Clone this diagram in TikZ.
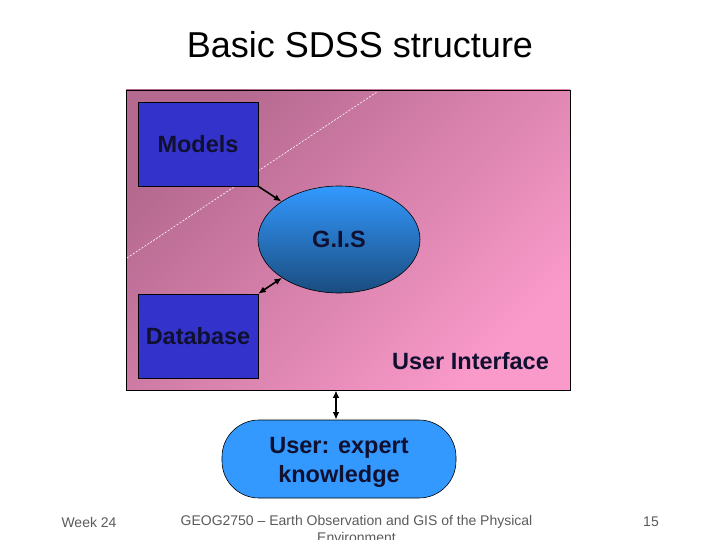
\documentclass[tikz,border=0pt]{standalone}
\usepackage{fontspec}
\setmainfont{Liberation Sans}
\usetikzlibrary{shapes.geometric,arrows.meta}
\definecolor{frameA}{HTML}{B5698F}
\definecolor{frameB}{HTML}{FA9ACA}
\definecolor{boxblue}{HTML}{3333CC}
\definecolor{lightblue}{HTML}{3399FF}
\definecolor{gisdark}{HTML}{1A4C7F}
\definecolor{navytext}{HTML}{101030}
\definecolor{footgray}{HTML}{5A5A5A}
\tikzset{
  boxlabel/.style={font=\fontsize{23.5}{29}\selectfont\bfseries, text=navytext},
  bluebox/.style={draw=black, line width=0.6pt, fill=boxblue, minimum width=120pt, minimum height=84pt, inner sep=0pt, boxlabel},
  link/.style={line width=1.6pt, {Latex[length=7.5pt,width=6.5pt]}-{Latex[length=7.5pt,width=6.5pt]}},
  onelink/.style={line width=1.6pt, -{Latex[length=7.5pt,width=6.5pt]}},
  foot/.style={font=\fontsize{14}{17}\selectfont, text=footgray, inner sep=0pt},
}
\begin{document}
\begin{tikzpicture}[x=1pt,y=-1pt]
\useasboundingbox (0,0) rectangle (720,540);
% title
\node[font=\fontsize{36}{40}\selectfont, inner sep=0pt] (title) at (360,45) {Basic SDSS structure};
% frame
\node[draw=black, line width=0.6pt, top color=frameA, bottom color=frameB, shading angle=45,
      minimum width=444pt, minimum height=300pt, inner sep=0pt] (ui) at (348,240) {};
% dashed white diagonal
\coordinate (d1) at (127,258);
\coordinate (d2) at (377,92);
\draw[white, line width=0.6pt, dash pattern=on 2pt off 1.5pt] (d1) -- (d2);
% boxes
\node[bluebox] (models) at (198,144) {Models};
\node[bluebox] (db) at (198,336) {Database};
\node[ellipse, draw=black, line width=0.6pt, top color=lightblue, bottom color=gisdark,
      minimum width=162pt, minimum height=107pt, inner sep=0pt, boxlabel] (gis) at (339,239.5) {\raisebox{-2pt}{G.I.S}};
\node[boxlabel, inner sep=0pt] (uilabel) at (470.5,361) {User Interface};
% user
\node[draw=black, line width=0.6pt, fill=lightblue, rounded corners=37pt,
      minimum width=234pt, minimum height=78pt, inner sep=0pt,
      label={[boxlabel, align=center, inner sep=0pt, yshift=-3pt]center:User: expert\\knowledge}] (user) at (339,459) {};
% connectors
\draw[onelink] (models.south east) -- (gis);
\draw[link] (db.north east) -- (gis);
\coordinate (uiout) at ([xshift=-3pt]user.north |- ui.south);
\coordinate (userin) at ([xshift=-3pt]user.north);
\draw[link] (uiout) -- (userin);
% footer
\node[foot] (week) at (89,522) {Week 24};
\node[foot, anchor=north, align=center] (course) at (356.5,515.5) {GEOG2750 -- Earth Observation and GIS of the Physical\\Environment};
\node[foot] (page) at (651,522) {15};
\end{tikzpicture}
\end{document}
